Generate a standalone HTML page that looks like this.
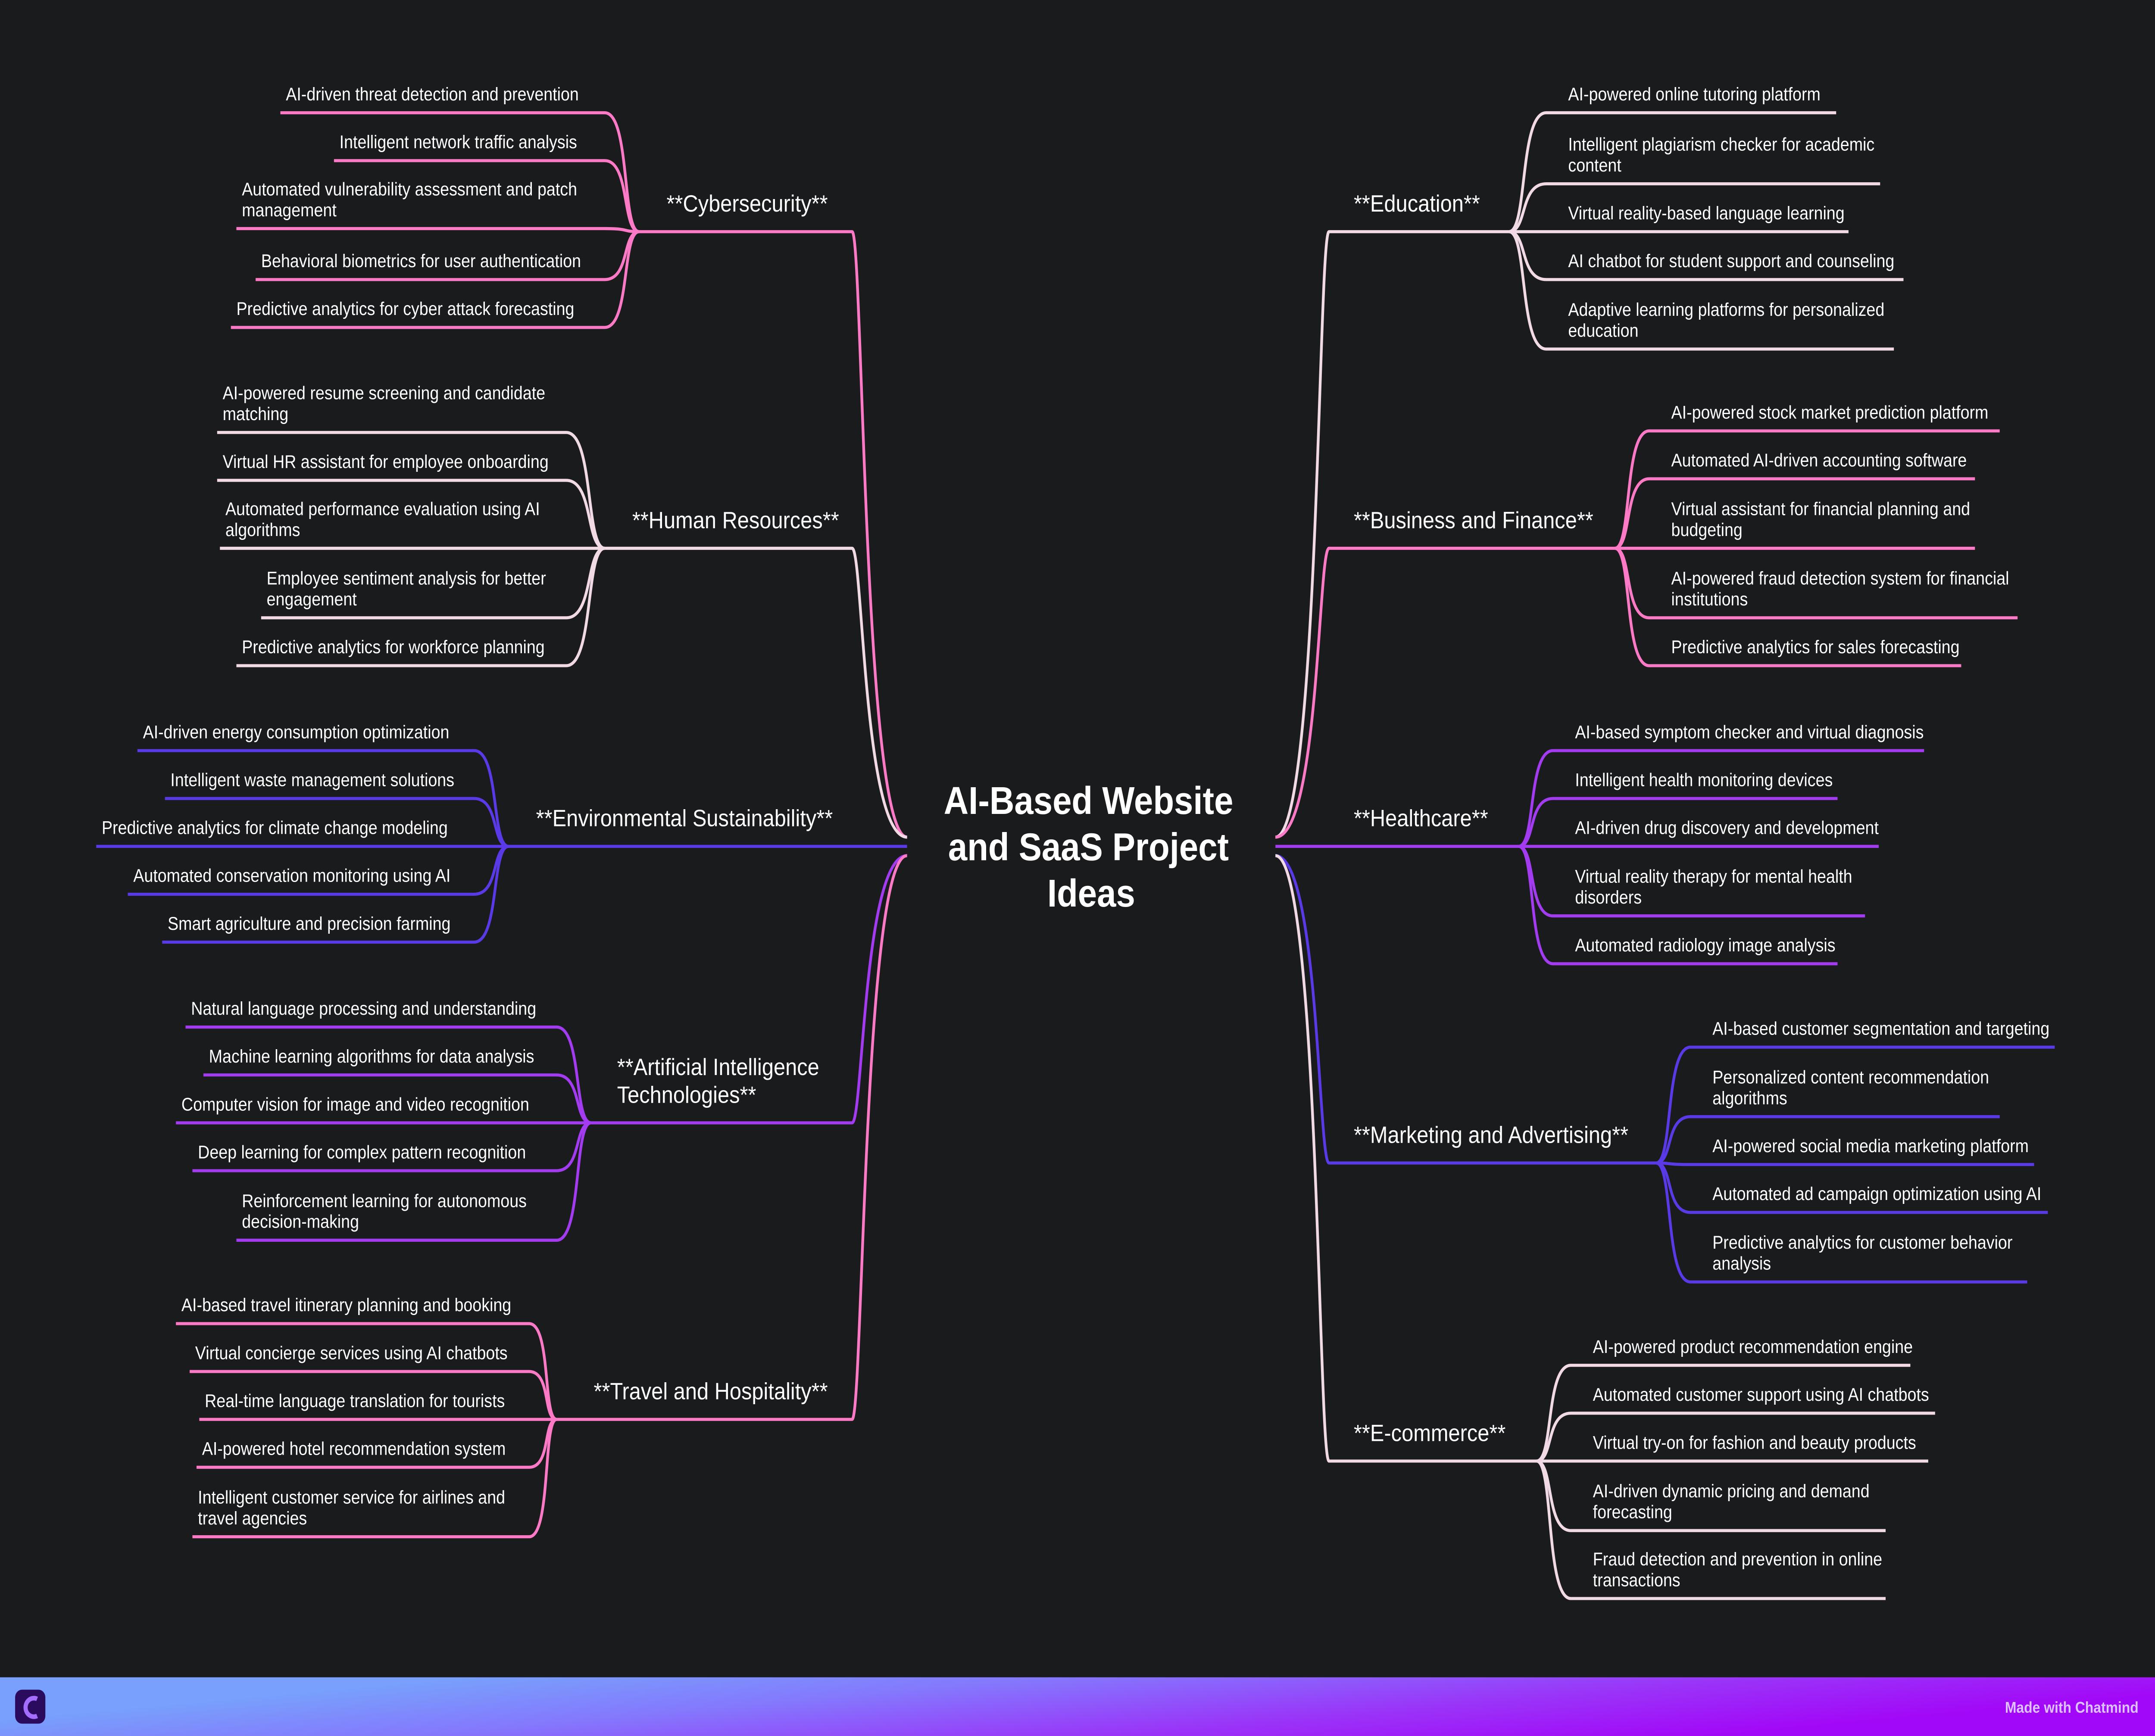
<!DOCTYPE html>
<html><head><meta charset="utf-8"><style>
html,body{margin:0;padding:0;background:#1a1b1d;width:100%;height:100%;overflow:hidden;}
svg{display:block;position:fixed;left:0;top:0;width:100vw;height:100vh;}
text{font-family:"Liberation Sans",sans-serif;fill:#ffffff;}
</style></head><body>
<svg id="map" viewBox="0 0 1568 1124" preserveAspectRatio="none" xmlns="http://www.w3.org/2000/svg">
<defs><linearGradient id="fg" x1="0" y1="0" x2="1" y2="0.3">
<stop offset="0.2" stop-color="#78a0fc"/><stop offset="0.45" stop-color="#8478fd"/><stop offset="0.75" stop-color="#9a34f8"/><stop offset="1" stop-color="#a208f8"/></linearGradient></defs>
<rect width="1568" height="1124" fill="#1a1b1d"/>
<g id="links"></g><g id="labels"></g>
<text x="792" y="527" text-anchor="middle" font-size="25" font-weight="bold">AI-Based Website</text>
<text x="792" y="557" text-anchor="middle" font-size="25" font-weight="bold">and SaaS Project</text>
<text x="794" y="587" text-anchor="middle" font-size="25" font-weight="bold">Ideas</text>
<rect x="0" y="1086" width="1568" height="38" fill="url(#fg)"/>
<rect x="11" y="1094" width="22" height="22" rx="5" fill="#2a0b5e"/>
<path d="M27 1100 A6 6 0 1 0 27 1111" stroke="#a46cff" stroke-width="3" fill="none"/>
<text x="1556" y="1109" text-anchor="end" font-size="10" font-weight="bold" style="fill:#dcc0ff">Made with Chatmind</text>
</svg>
<script>
const branchNames=["**Cybersecurity**","**Human Resources**","**Environmental Sustainability**","**Artificial Intelligence|Technologies**","**Travel and Hospitality**","**Education**","**Business and Finance**","**Healthcare**","**Marketing and Advertising**","**E-commerce**"];
const branchSide=["L","L","L","L","L","R","R","R","R","R"];
const branchY=[150,355,548,727,919,150,355,548,753,946];
const branchJx=[465,440,370,430,405,1098,1175,1105,1205,1118];
const branchLx=[485,460,390,449,432,985,985,985,985,985];
const branchColor=["#ff7ac6","#f2d9e6","#5a3ae6","#a33cf0","#ff7ac6","#f2d9e6","#ff7ac6","#a33cf0","#5a3ae6","#f2d9e6"];
const childEdge=[440,412,345,405,385,1125,1200,1130,1230,1143];
const childText=[
["AI-driven threat detection and prevention","Intelligent network traffic analysis","Automated vulnerability assessment and patch|management","Behavioral biometrics for user authentication","Predictive analytics for cyber attack forecasting"],
["AI-powered resume screening and candidate|matching","Virtual HR assistant for employee onboarding","Automated performance evaluation using AI|algorithms","Employee sentiment analysis for better|engagement","Predictive analytics for workforce planning"],
["AI-driven energy consumption optimization","Intelligent waste management solutions","Predictive analytics for climate change modeling","Automated conservation monitoring using AI","Smart agriculture and precision farming"],
["Natural language processing and understanding","Machine learning algorithms for data analysis","Computer vision for image and video recognition","Deep learning for complex pattern recognition","Reinforcement learning for autonomous|decision-making"],
["AI-based travel itinerary planning and booking","Virtual concierge services using AI chatbots","Real-time language translation for tourists","AI-powered hotel recommendation system","Intelligent customer service for airlines and|travel agencies"],
["AI-powered online tutoring platform","Intelligent plagiarism checker for academic|content","Virtual reality-based language learning","AI chatbot for student support and counseling","Adaptive learning platforms for personalized|education"],
["AI-powered stock market prediction platform","Automated AI-driven accounting software","Virtual assistant for financial planning and|budgeting","AI-powered fraud detection system for financial|institutions","Predictive analytics for sales forecasting"],
["AI-based symptom checker and virtual diagnosis","Intelligent health monitoring devices","AI-driven drug discovery and development","Virtual reality therapy for mental health|disorders","Automated radiology image analysis"],
["AI-based customer segmentation and targeting","Personalized content recommendation|algorithms","AI-powered social media marketing platform","Automated ad campaign optimization using AI","Predictive analytics for customer behavior|analysis"],
["AI-powered product recommendation engine","Automated customer support using AI chatbots","Virtual try-on for fashion and beauty products","AI-driven dynamic pricing and demand|forecasting","Fraud detection and prevention in online|transactions"]];
const childY=[[73,104,148,181,212],[280,311,355,400,431],[486,517,548,579,610],[665,696,727,758,803],[857,888,919,950,995],[73,119,150,181,226],[279,310,355,400,431],[486,517,548,593,624],[678,723,754,785,830],[884,915,946,991,1035]];
const childFar=[[204,243,172,186,168],[158,158,160,190,172],[100,120,70,93,118],[135,148,128,140,172],[128,138,145,143,140],[1336,1368,1345,1385,1378],[1455,1437,1437,1468,1427],[1400,1337,1367,1357,1337],[1495,1455,1480,1490,1475],[1390,1408,1403,1372,1372]];
const NS="http://www.w3.org/2000/svg";
const links=document.getElementById('links'),labels=document.getElementById('labels');
function mk(tag,attrs,parent){const e=document.createElementNS(NS,tag);for(const k in attrs)e.setAttribute(k,attrs[k]);parent.appendChild(e);return e;}
for(let b=0;b<branchNames.length;b++){
  const L=branchSide[b]==="L",y=branchY[b],col=branchColor[b];
  const cx=L?660:928, ex=L?622:965, jx=branchJx[b];
  let d;
  if(y===548) d=`M${cx},548 L${jx},548`;
  else {const dir=L?-1:1;const sy=548+(y<548?-6:6);
    d=`M${cx},${sy} C${cx+dir*32},${sy} ${ex-dir*6},${y} ${ex+dir*2},${y} L${jx},${y}`;}
  const p=mk('path',{d:d,stroke:col,'stroke-width':2,fill:'none'},links);
  
  
  const parts=branchNames[b].split('|');
  parts.forEach((t,i)=>{
    const ty=y-13-(parts.length-1-i)*18;
    const tx=mk('text',{x:branchLx[b],y:ty,'font-size':15.3},labels);
    tx.textContent=t;
    
    
  });
  for(let c=0;c<childText[b].length;c++){
    const cy=childY[b][c], ce=childEdge[b], far=childFar[b][c];
    const mid=(jx+ce)/2;
    const cd=`M${jx},${y} C${mid},${y} ${mid+(L?6:-6)},${cy} ${ce},${cy} L${far},${cy}`;
    const cp=mk('path',{d:cd,stroke:col,'stroke-width':2,fill:'none'},links);
    
    
    const lines=childText[b][c].split('|');
    const left=L?far+4:ce+16;
    lines.forEach((t,i)=>{
      const ty=cy-8-(lines.length-1-i)*13.5;
      const tt=mk('text',{x:left,y:ty,'font-size':11.8},labels);
      tt.textContent=t;
      
      
    });
  }
}
</script>
</body></html>
